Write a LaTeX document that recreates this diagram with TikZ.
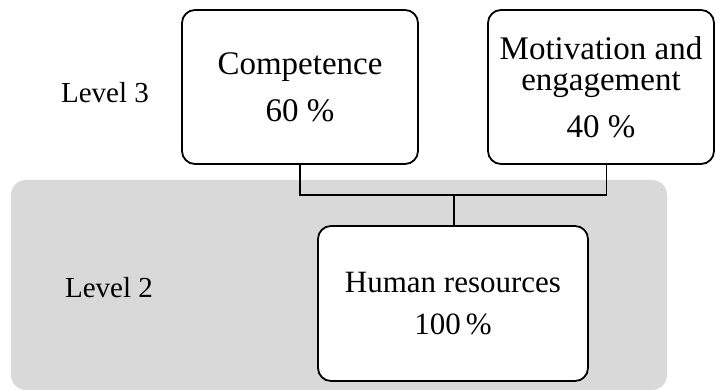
\documentclass[tikz,border=0pt]{standalone}
\usepackage{fontspec}
\setmainfont{Liberation Serif}
\usetikzlibrary{calc}
\definecolor{panelgray}{HTML}{D9D9D9}
\tikzset{
  box/.style={draw=black, line width=1.8pt, rounded corners=13pt, fill=white,
    align=center, inner sep=0pt},
  link/.style={draw=black, line width=1.8pt},
  lvl/.style={font=\fontsize{29}{34}\selectfont, inner sep=0pt},
}
\begin{document}
\begin{tikzpicture}[x=1pt, y=-1pt]
  \useasboundingbox (0,0) rectangle (715,390);
  % level 2 panel
  \fill[panelgray, rounded corners=15pt] (11,180) rectangle (667,390);

  % level 3 boxes
  \node[box, minimum width=236pt, minimum height=154pt,
        font=\fontsize{33}{33}\selectfont] (comp) at (300,87)
        {Competence\\[14pt]60 \%};
  \node[box, minimum width=226pt, minimum height=154pt,
        font=\fontsize{33}{31}\selectfont] (mot) at (601,87)
        {Motivation and\\engagement\\[16pt]40 \%};
  % level 2 box
  \node[box, minimum width=270pt, minimum height=155pt,
        font=\fontsize{31}{31}\selectfont] (hr) at (453,303.5)
        {Human resources\\[11pt]100\,\%};

  % level labels
  \node[lvl] (l3) at (105,93) {Level 3};
  \node[lvl] (l2) at (109,288) {Level 2};

  % connectors
  \coordinate (j) at (454,195);
  \coordinate (mj) at ($(mot.south)+(5.5,0)$);
  \draw[link] (comp.south) |- (j) -| (mj);
  \draw[link] (j) -- (j |- hr.north);
\end{tikzpicture}
\end{document}
